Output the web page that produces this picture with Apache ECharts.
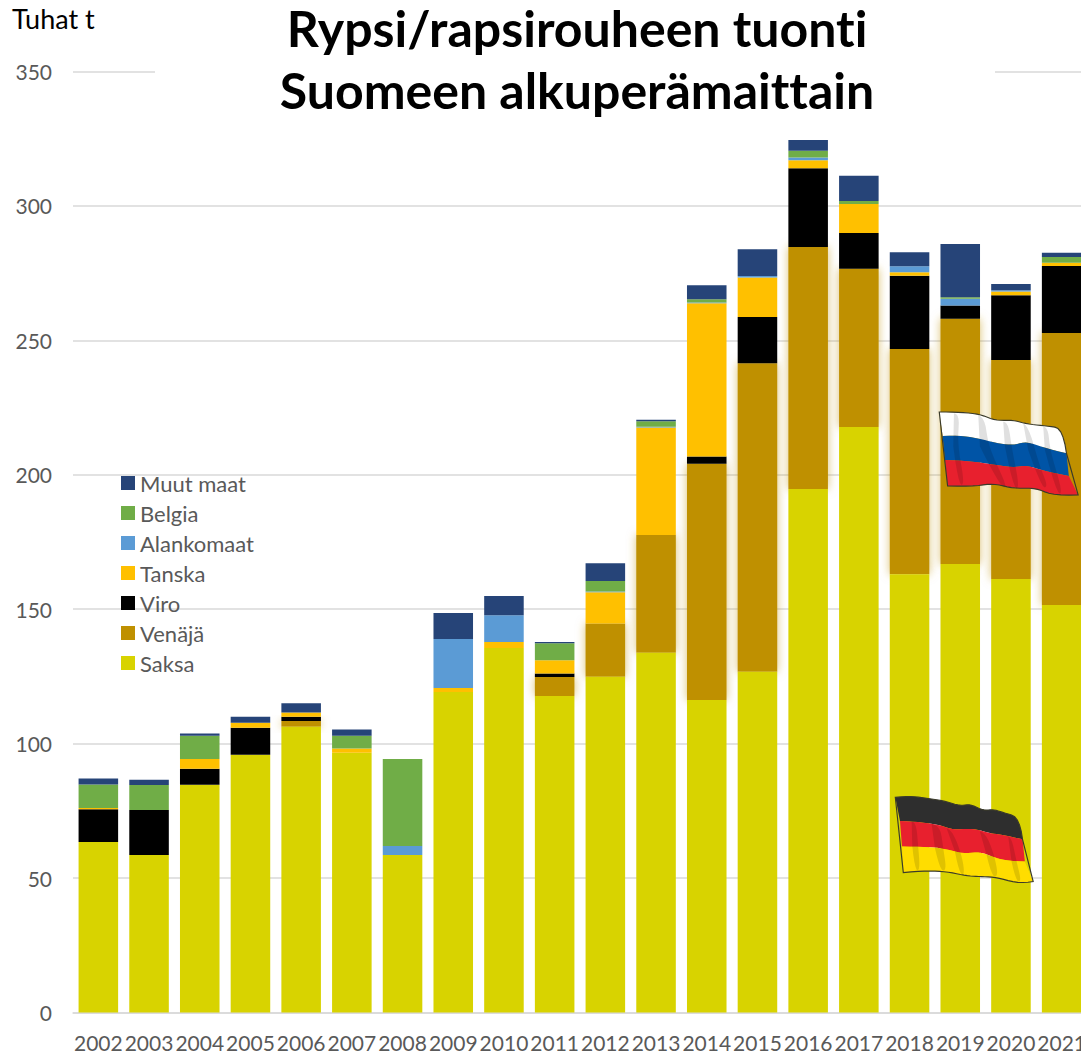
<!DOCTYPE html>
<html>
<head>
<meta charset="utf-8">
<title>Rypsi/rapsirouheen tuonti</title>
<script src="https://cdn.jsdelivr.net/npm/echarts@6/dist/echarts.min.js"></script>
<style>
    html, body { margin: 0; padding: 0; background: #fff; overflow: hidden; }
    #chart { width: 1081px; height: 1055px; }
    #chart text { font-variant-ligatures: none; }
</style>
</head>
<body>
<div id="chart"></div>
<script>
var years = ['2002', '2003', '2004', '2005', '2006', '2007', '2008', '2009', '2010', '2011',
    '2012', '2013', '2014', '2015', '2016', '2017', '2018', '2019', '2020', '2021'];
var saksa = [63.4, 58.6, 84.7, 95.9, 106.3, 96.6, 58.6, 119.2, 135.6, 117.7,
    124.9, 133.8, 116.2, 126.7, 194.7, 217.8, 163, 166.8, 161.2, 151.6];
var venaja = [0, 0, 0, 0, 2.1, 0, 0, 0, 0, 7.1,
    19.8, 43.8, 87.9, 114.8, 90, 58.8, 83.8, 91.2, 81.5, 101.1];
var viro = [12.2, 16.7, 6, 10, 1.6, 0, 0, 0, 0, 1.3,
    0, 0, 2.7, 17.2, 29.3, 13.3, 27.2, 5, 24.1, 25];
var tanska = [0.5, 0, 3.6, 1.9, 1.6, 1.6, 0, 1.5, 2.2, 4.9,
    11.6, 40, 57, 14.7, 3, 10.8, 1.3, 0, 1.4, 1.2];
var alankomaat = [0, 0, 0, 0, 0, 0, 3.3, 18.2, 10, 0,
    0.3, 0.3, 0.3, 0.5, 1, 0, 2.3, 2.5, 0.4, 0];
var belgia = [8.7, 9.3, 8.6, 0, 0, 4.7, 32.4, 0, 0, 6.3,
    3.9, 2, 1.2, 0, 2.5, 1.1, 0, 0.5, 0, 2.1];
var muut = [2.2, 2, 0.9, 2.2, 3.4, 2.4, 0, 9.7, 7.1, 0.5,
    6.6, 0.6, 5.2, 10, 4, 9.4, 5.2, 19.8, 2.4, 1.6];

var legendOrder = ['Muut maat', 'Belgia', 'Alankomaat', 'Tanska', 'Viro', 'Venäjä', 'Saksa'];
var yTicks = { min: 0, max: 350, interval: 50 };
var font = 'Lato';

// tasoittaa reunan: puolivälien väliin kvadraattiset kaaret pisteinä
function curve(pts) {
    var out = [pts[0]];
    var prev = pts[0];
    for (var i = 1; i < pts.length - 1; i++) {
        var end = i === pts.length - 2 ? pts[i + 1] :
            [(pts[i][0] + pts[i + 1][0]) / 2, (pts[i][1] + pts[i + 1][1]) / 2];
        for (var t = 0.2; t <= 1.01; t += 0.2) {
            var a = (1 - t) * (1 - t), b = 2 * t * (1 - t), c = t * t;
            out.push([a * prev[0] + b * pts[i][0] + c * end[0], a * prev[1] + b * pts[i][1] + c * end[1]]);
        }
        prev = end;
    }
    return out;
}

function band(top, bottom, color) {
    return {
        type: 'polygon',
        z: 20,
        shape: { points: curve(top).concat(curve(bottom).reverse()) },
        style: { fill: color }
    };
}

function fold(pts, color) {
    return { type: 'polygon', z: 21, shape: { points: curve(pts) }, style: { fill: color } };
}

function flag(x, y, edges, colors, folds) {
    var children = [];
    for (var i = 0; i < 3; i++) {
        children.push(band(edges[i], edges[i + 1], colors[i]));
    }
    folds.forEach(function (f) {
        children.push(fold(f, 'rgba(0,0,0,0.12)'));
    });
    children.push({
        type: 'polygon',
        z: 22,
        shape: { points: curve(edges[0]).concat(curve(edges[3]).reverse()) },
        style: { fill: 'none', stroke: '#3a3a2a', lineWidth: 3.5 }
    });
    return { type: 'group', x: x, y: y, scaleX: 1 / 3, scaleY: 1 / 3, children: children };
}

var ruEdges = [
    [[178, 66], [230, 66], [300, 72], [345, 92], [400, 90], [440, 102], [500, 108], [550, 115], [560, 190]],
    [[188, 138], [240, 136], [300, 146], [350, 160], [400, 166], [440, 154], [500, 176], [560, 190]],
    [[195, 210], [250, 212], [320, 220], [400, 234], [440, 225], [500, 246], [567, 258]],
    [[203, 288], [280, 290], [340, 280], [400, 296], [470, 294], [520, 318], [595, 315]]
];
var ruFolds = [
    [[222, 70], [240, 70], [232, 160], [255, 285], [235, 285], [220, 170]],
    [[295, 75], [315, 82], [325, 170], [385, 295], [360, 290], [300, 170]],
    [[370, 95], [385, 95], [395, 170], [420, 295], [400, 295], [375, 170]],
    [[430, 100], [445, 105], [480, 230], [505, 290], [485, 295], [445, 180]],
    [[490, 108], [505, 112], [510, 180], [550, 310], [530, 312], [495, 180]]
];
var deEdges = [
    [[46, 52], [90, 48], [140, 55], [190, 62], [240, 78], [270, 72], [310, 92], [340, 88], [370, 98], [420, 112], [428, 178]],
    [[60, 123], [110, 125], [180, 135], [220, 150], [280, 145], [330, 160], [370, 165], [428, 178]],
    [[66, 200], [130, 200], [190, 205], [250, 222], [300, 215], [350, 235], [385, 243], [435, 245]],
    [[70, 278], [130, 272], [200, 275], [260, 288], [300, 290], [350, 292], [420, 312], [460, 305]]
];
var deFolds = [
    [[95, 125], [108, 125], [115, 200], [120, 270], [105, 272], [97, 200]],
    [[155, 132], [180, 135], [190, 205], [200, 272], [180, 272], [165, 205]],
    [[200, 145], [215, 148], [245, 222], [255, 285], [238, 282], [225, 215]],
    [[300, 155], [318, 158], [345, 232], [355, 290], [335, 290], [320, 225]],
    [[385, 170], [395, 172], [410, 245], [425, 305], [408, 305], [395, 245]]
];

var chart = echarts.init(document.getElementById('chart'), null, { renderer: 'svg' });

function barSeries(name, values, color, extra) {
    var s = {
        name: name,
        type: 'bar',
        stack: 'tuonti',
        data: values,
        barWidth: '78%',
        animation: false,
        z: 3,
        itemStyle: { color: color }
    };
    for (var k in extra) {
        s[k] = extra[k];
    }
    return s;
}

var option = {
    backgroundColor: '#fff',
    animation: false,
    title: {
        text: 'Rypsi/rapsirouheen tuonti\nSuomeen alkuperämaittain',
        left: 572,
        top: -8,
        textAlign: 'center',
        textStyle: {
            fontFamily: font,
            fontWeight: 'bold',
            fontSize: 50,
            lineHeight: 62,
            color: '#000'
        }
    },
    legend: {
        orient: 'vertical',
        left: 121,
        top: 472,
        padding: 0,
        itemWidth: 14,
        itemHeight: 14,
        itemGap: 8,
        icon: 'rect',
        data: legendOrder,
        textStyle: { fontFamily: font, fontSize: 22, color: '#595959', lineHeight: 14 }
    },
    grid: { left: 73, top: 71.5, width: 1014, height: 941, outerBoundsMode: 'none' },
    xAxis: {
        type: 'category',
        data: years,
        axisLine: { show: true, lineStyle: { color: '#d9d9d9', width: 1.5 } },
        axisTick: { show: false },
        axisLabel: { interval: 0, fontFamily: font, fontSize: 21, color: '#595959', margin: 19, hideOverlap: false }
    },
    yAxis: {
        type: 'value',
        min: yTicks.min,
        max: yTicks.max,
        interval: yTicks.interval,
        axisLine: { show: false },
        axisTick: { show: false },
        axisLabel: { fontFamily: font, fontSize: 21, color: '#595959', margin: 21 },
        splitLine: { lineStyle: { color: '#d9d9d9', width: 1.5 } }
    },
    series: [
        barSeries('Saksa', saksa, '#d8d300', {}),
        // hehku jää naapuripalkkien alle
        barSeries('Venäjä', venaja, '#bf9000', { z: 2, itemStyle: { color: '#bf9000', shadowBlur: 10, shadowColor: 'rgba(191,144,0,0.55)' } }),
        barSeries('Viro', viro, '#000000', {}),
        barSeries('Tanska', tanska, '#ffc000', {}),
        barSeries('Alankomaat', alankomaat, '#5b9bd5', {}),
        barSeries('Belgia', belgia, '#70ad47', {}),
        barSeries('Muut maat', muut, '#264478', {})
    ],
    graphic: [
        // valkoinen tausta otsikon alla peittää 350-viivan
        { type: 'rect', shape: { x: 155, y: 60, width: 840, height: 24 }, style: { fill: '#fff' }, z: 1 },
        { type: 'text', x: 12, y: 5, z: 10, style: { text: 'Tuhat t', fontFamily: font, fontSize: 27, fill: '#000' } },
        flag(880, 390, ruEdges, ['#ffffff', '#0054a6', '#e8202e'], ruFolds),
        flag(880, 780, deEdges, ['#2e2e2e', '#e8202e', '#ffdd00'], deFolds)
    ]
};

chart.setOption(option);
window.addEventListener('resize', function () {
    chart.resize();
});
</script>
</body>
</html>
